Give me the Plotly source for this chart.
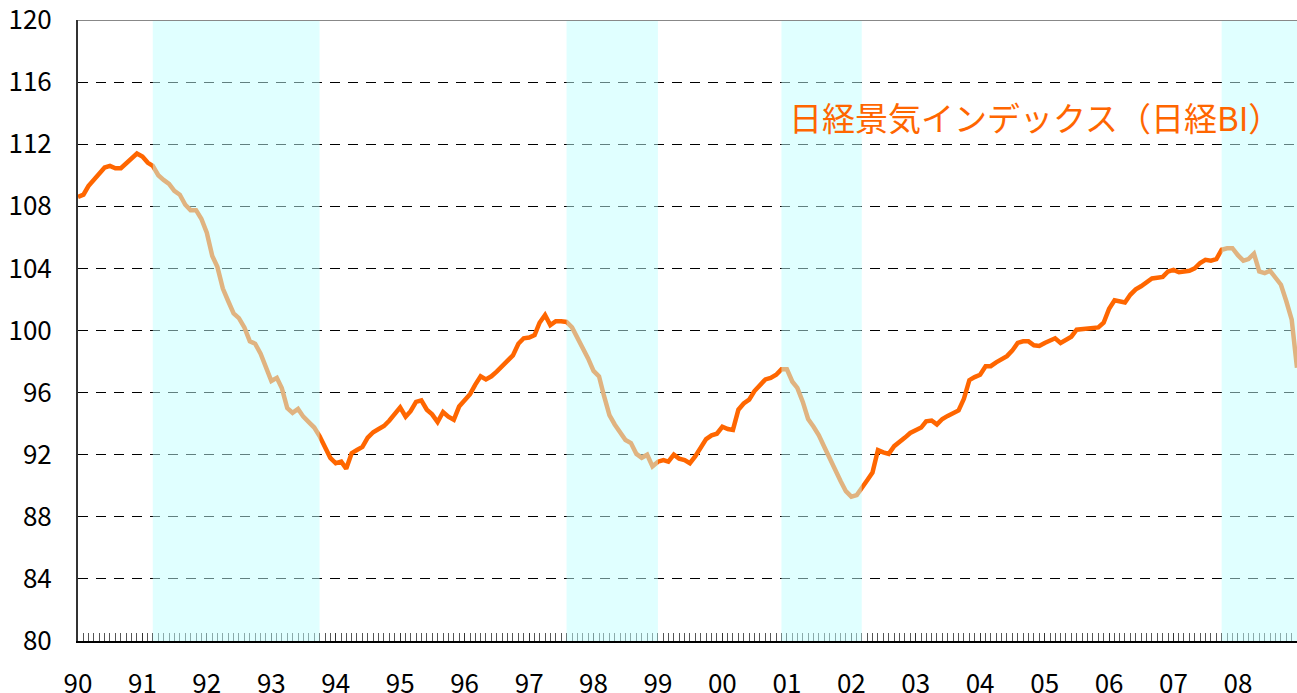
import pandas as pd
import plotly.graph_objects as go

# Nikkei Business Index, monthly, Jan 1990 - Dec 2008
months = pd.date_range("1990-01-01", periods=228, freq="MS")

nikkei_bi = [
    # 1990
    108.6, 108.75, 109.3, 109.7, 110.05, 110.5, 110.6, 110.45, 110.45, 110.75, 111.15, 111.4,
    # 1991
    111.2, 110.8, 110.6, 110.0, 109.7, 109.45, 109.0, 108.75, 108.1, 107.75, 107.75, 107.2,
    # 1992
    106.3, 104.8, 104.1, 102.7, 101.9, 101.1, 100.8, 100.2, 99.3, 99.15, 98.5, 97.6,
    # 1993
    96.75, 96.95, 96.3, 95.0, 94.7, 94.95, 94.45, 94.1, 93.75, 93.2, 92.5, 91.8,
    # 1994
    91.45, 91.55, 91.1, 92.1, 92.3, 92.5, 93.1, 93.45, 93.65, 93.85, 94.2, 94.65,
    # 1995
    95.05, 94.45, 94.8, 95.4, 95.5, 94.9, 94.6, 94.1, 94.75, 94.45, 94.25, 95.1,
    # 1996
    95.5, 95.9, 96.5, 97.05, 96.85, 97.05, 97.35, 97.7, 98.05, 98.4, 99.15, 99.5,
    # 1997
    99.55, 99.7, 100.5, 101.0, 100.35, 100.6, 100.6, 100.55, 100.2, 99.55, 98.9, 98.2,
    # 1998
    97.4, 97.05, 95.8, 94.55, 93.95, 93.45, 92.95, 92.75, 92.05, 91.8, 92.0, 91.25,
    # 1999
    91.55, 91.65, 91.55, 92.0, 91.75, 91.65, 91.45, 91.9, 92.5, 93.0, 93.25, 93.35,
    # 2000
    93.8, 93.65, 93.6, 94.9, 95.3, 95.55, 96.1, 96.5, 96.85, 96.95, 97.15, 97.5,
    # 2001
    97.5, 96.7, 96.3, 95.4, 94.3, 93.8, 93.25, 92.5, 91.7, 91.0, 90.3, 89.65,
    # 2002
    89.3, 89.4, 89.8, 90.35, 90.85, 92.3, 92.15, 92.05, 92.55, 92.8, 93.1, 93.4,
    # 2003
    93.55, 93.75, 94.15, 94.2, 93.95, 94.3, 94.5, 94.7, 94.85, 95.6, 96.8, 97.0,
    # 2004
    97.15, 97.7, 97.7, 97.95, 98.15, 98.35, 98.7, 99.2, 99.3, 99.3, 99.05, 99.0,
    # 2005
    99.2, 99.35, 99.5, 99.2, 99.4, 99.6, 100.05, 100.1, 100.1, 100.2, 100.2, 100.5,
    # 2006
    101.4, 101.95, 101.9, 101.8, 102.3, 102.65, 102.85, 103.1, 103.35, 103.4, 103.45, 103.8,
    # 2007
    103.9, 103.75, 103.8, 103.85, 104.0, 104.35, 104.55, 104.5, 104.6, 105.2, 105.3, 105.3,
    # 2008
    104.85, 104.5, 104.6, 104.95, 103.8, 103.7, 103.85, 103.35, 102.95, 101.9, 100.7, 97.6,
]

# downturn periods (shaded)
downturn_start = ["1991-03-01", "1997-08-01", "2000-12-01", "2007-10-01"]
downturn_end = ["1993-10-01", "1999-01-01", "2002-03-01", "2008-12-01"]

series_label = "日経景気インデックス（日経BI）"
year_ticks = pd.date_range("1990-01-01", "2008-01-01", freq="YS")

ORANGE = "#FF6600"
FONT = "Noto Sans CJK JP"

fig = go.Figure()
fig.add_trace(
    go.Scatter(
        x=months,
        y=nikkei_bi,
        mode="lines",
        line={"color": ORANGE, "width": 4.5},
        hoverinfo="x+y",
        showlegend=False,
    )
)

for x0, x1 in zip(downturn_start, downturn_end):
    fig.add_vrect(
        x0=x0, x1=x1, fillcolor="#C2FFFF", opacity=0.5,
        line_width=0, layer="above",
    )

# top frame line
fig.add_shape(
    type="line", xref="paper", yref="y", x0=0, x1=1, y0=120, y1=120,
    line={"color": "#888888", "width": 2}, layer="above",
)

fig.add_annotation(
    text=series_label, xref="paper", yref="y", x=0.5815, y=113.75,
    xanchor="left", yanchor="middle", showarrow=False,
    font={"family": FONT, "size": 33, "color": ORANGE},
)

fig.update_layout(
    width=1297,
    height=693,
    margin={"l": 78, "r": 0, "t": 20, "b": 52},
    paper_bgcolor="white",
    plot_bgcolor="white",
    font={"family": FONT, "size": 26, "color": "black"},
    xaxis={
        "type": "date",
        "automargin": False,
        "ticklabeloverflow": "allow",
        "range": [months[0], months[-1]],
        "tickvals": year_ticks,
        "tickformat": "%y",
        "ticks": "inside",
        "ticklen": 8,
        "tickwidth": 1,
        "tickcolor": "#333333",
        "minor": {"dtick": "M1", "tick0": "1990-01-01", "ticks": "inside",
                  "ticklen": 8, "tickwidth": 1, "tickcolor": "#555555", "showgrid": False},
        "ticklabelstandoff": 19,
        "showgrid": False,
        "showline": True,
        "linecolor": "black",
        "linewidth": 2,
        "zeroline": False,
    },
    yaxis={
        "automargin": False,
        "ticklabeloverflow": "allow",
        "range": [80, 120],
        "dtick": 4,
        "tick0": 80,
        "showgrid": True,
        "gridcolor": "black",
        "gridwidth": 1,
        "griddash": "10px,8px",
        "showline": True,
        "linecolor": "#333333",
        "linewidth": 2,
        "ticks": "",
        "ticklabelstandoff": 19,
        "zeroline": False,
    },
)

# drop the page's default body margin so the figure fills the window exactly
fig.write_html(
    "out.html",
    config={"displayModeBar": False},
    post_script="document.body.style.margin = '0';",
)
